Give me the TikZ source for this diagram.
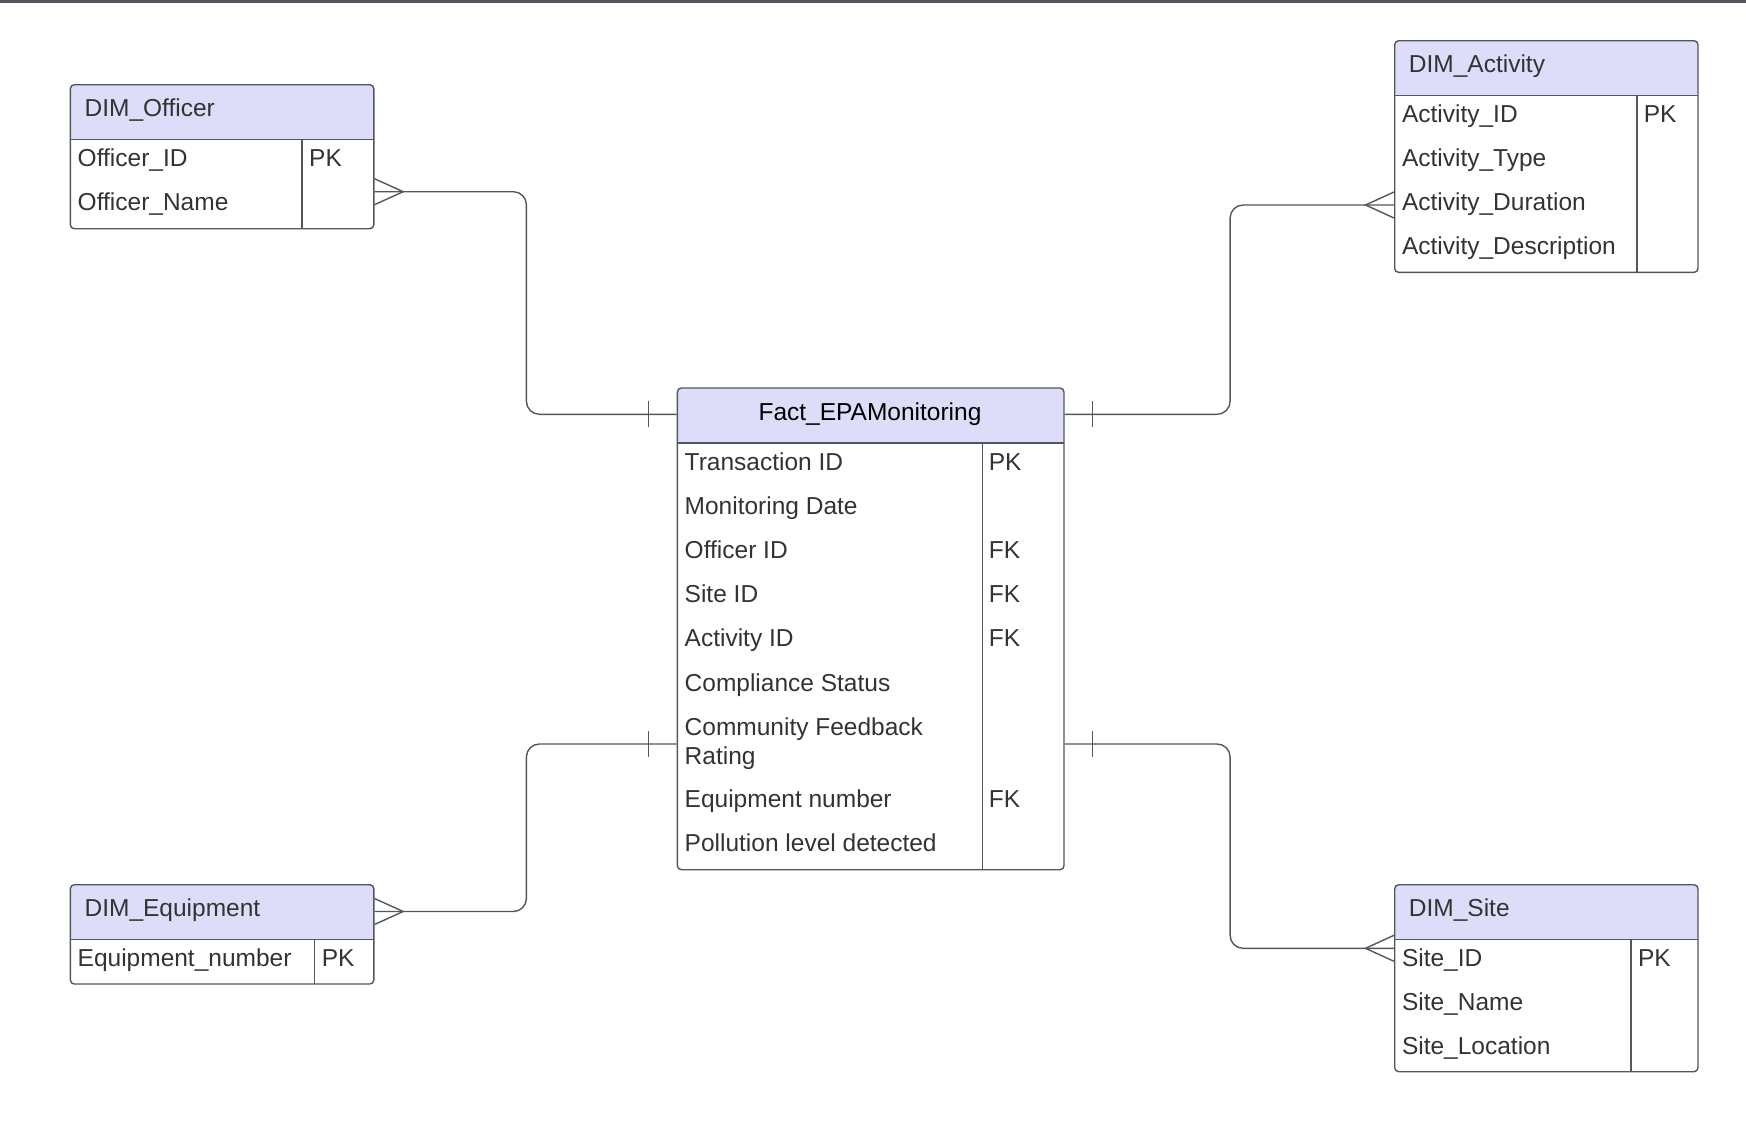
\documentclass[tikz,border=0pt]{standalone}
\usepackage{fontspec}
\setmainfont{Liberation Sans}
\definecolor{headfill}{RGB}{221,221,250}
\definecolor{edge}{RGB}{82,86,94}
\definecolor{ink}{RGB}{51,51,51}
\tikzset{
  entity/.style={draw=edge,line width=0.7pt,rounded corners=2pt,anchor=north west,inner sep=0pt,
    path picture={
      \fill[headfill] (path picture bounding box.north west) rectangle ([yshift=-27.5pt]path picture bounding box.north east);
      \draw[edge,line width=0.7pt] ([yshift=-27.5pt]path picture bounding box.north west) -- ([yshift=-27.5pt]path picture bounding box.north east);
      \draw[edge,line width=0.7pt] ([xshift=#1,yshift=-27.5pt]path picture bounding box.north west) -- ([xshift=#1]path picture bounding box.south west);}},
  field/.style={anchor=base west,inner sep=0pt,text=ink,font=\fontsize{12.25}{14.5}\selectfont},
  line/.style={draw=edge,line width=0.7pt},
  link/.style={line,rounded corners=6.5pt}
}
\begin{document}
\begin{tikzpicture}[x=0.5pt,y=-0.5pt]
\useasboundingbox (0,0) rectangle (1746,1130);
\draw[line,line width=1.4pt] (0,1.4) -- (1746,1.4);

% tables
\node[entity=115.8pt, minimum width=151.75pt, minimum height=72pt] (officer) at (69.6,84) {};
\node[entity=152.5pt, minimum width=193.3pt, minimum height=240.85pt] (fact) at (676.7,387.3) {};
\node[entity=121.05pt, minimum width=151.65pt, minimum height=115.85pt] (activity) at (1394,40) {};
\node[entity=122.1pt, minimum width=151.75pt, minimum height=49.65pt] (equipment) at (69.6,884) {};
\node[entity=118.2pt, minimum width=151.65pt, minimum height=93.5pt] (site) at (1394,884) {};

% DIM_Officer
\node[field] (officertitle) at (84.2,116.7) {DIM\_Officer};
\node[field] (officerid) at (77.3,166.7) {Officer\_ID};
\node[field] (officername) at (77.3,210.7) {Officer\_Name};
\node[field] (officerpk) at (308.8,166.7) {PK};

% Fact_EPAMonitoring
\node[field, anchor=base, text=black] (facttitle) at (870,420) {Fact\_EPAMonitoring};
\node[field] (facttrans) at (684.3,470) {Transaction ID};
\node[field] (factdate) at (684.3,514.2) {Monitoring Date};
\node[field] (factofficer) at (684.3,558.4) {Officer ID};
\node[field] (factsite) at (684.3,602.6) {Site ID};
\node[field] (factactivity) at (684.3,646.8) {Activity ID};
\node[field] (factstatus) at (684.3,691) {Compliance Status};
\node[field, align=left] (factrating) at (684.3,764.2) {Community Feedback\\Rating};
\node[field] (factequip) at (684.3,807.3) {Equipment number};
\node[field] (factlevel) at (684.3,851) {Pollution level detected};
\node[field] (factpk) at (988.4,470) {PK};
\node[field] (factfk1) at (988.4,558.4) {FK};
\node[field] (factfk2) at (988.4,602.6) {FK};
\node[field] (factfk3) at (988.4,646.8) {FK};
\node[field] (factfk4) at (988.4,807.3) {FK};

% DIM_Activity
\node[field] (activitytitle) at (1408.5,72.7) {DIM\_Activity};
\node[field] (activityid) at (1401.6,122.7) {Activity\_ID};
\node[field] (activitytype) at (1401.6,166.7) {Activity\_Type};
\node[field] (activityduration) at (1401.6,210.7) {Activity\_Duration};
\node[field] (activitydesc) at (1401.6,254.7) {Activity\_Description};
\node[field] (activitypk) at (1643.4,122.7) {PK};

% DIM_Equipment
\node[field] (equipmenttitle) at (84.2,916.7) {DIM\_Equipment};
\node[field] (equipmentnumber) at (77.3,966.7) {Equipment\_number};
\node[field] (equipmentpk) at (321.4,966.7) {PK};

% DIM_Site
\node[field] (sitetitle) at (1408.5,916.7) {DIM\_Site};
\node[field] (siteid) at (1401.6,966.7) {Site\_ID};
\node[field] (sitename) at (1401.6,1010.7) {Site\_Name};
\node[field] (sitelocation) at (1401.6,1054.7) {Site\_Location};
\node[field] (sitepk) at (1637.7,966.7) {PK};

% connector ends
\coordinate (factw1) at ([yshift=-13.5pt]fact.north west);
\coordinate (factw2) at ([yshift=-178.35pt]fact.north west);
\coordinate (facte1) at ([yshift=-13.5pt]fact.north east);
\coordinate (facte2) at ([yshift=-178.35pt]fact.north east);
\coordinate (officerc) at ([yshift=-17.5pt]officer.east);
\coordinate (activityc) at ([yshift=-82.5pt]activity.north west);
\coordinate (equipmentc) at ([yshift=-13.75pt]equipment.north east);
\coordinate (sitec) at ([yshift=-32.15pt]site.north west);

% relationships
\draw[link] (officerc) -- ++(151.9,0) |- (factw1);
\draw[link] (facte1) -- ++(165.4,0) |- (activityc);
\draw[link] (equipmentc) -- ++(151.9,0) |- (factw2);
\draw[link] (facte2) -- ++(165.4,0) |- (sitec);

% many ends
\draw[line] ([yshift=6.5pt]officerc) -- ([xshift=14.35pt]officerc) -- ([yshift=-6.5pt]officerc);
\draw[line] ([yshift=6.5pt]equipmentc) -- ([xshift=14.35pt]equipmentc) -- ([yshift=-6.5pt]equipmentc);
\draw[line] ([yshift=6.5pt]activityc) -- ([xshift=-14.25pt]activityc) -- ([yshift=-6.5pt]activityc);
\draw[line] ([yshift=6.5pt]sitec) -- ([xshift=-14.25pt]sitec) -- ([yshift=-6.5pt]sitec);

% one ends
\draw[line] ([xshift=-14pt,yshift=6.5pt]factw1) -- ([xshift=-14pt,yshift=-6.5pt]factw1);
\draw[line] ([xshift=-14pt,yshift=6.5pt]factw2) -- ([xshift=-14pt,yshift=-6.5pt]factw2);
\draw[line] ([xshift=14pt,yshift=6.5pt]facte1) -- ([xshift=14pt,yshift=-6.5pt]facte1);
\draw[line] ([xshift=14pt,yshift=6.5pt]facte2) -- ([xshift=14pt,yshift=-6.5pt]facte2);
\end{tikzpicture}
\end{document}
